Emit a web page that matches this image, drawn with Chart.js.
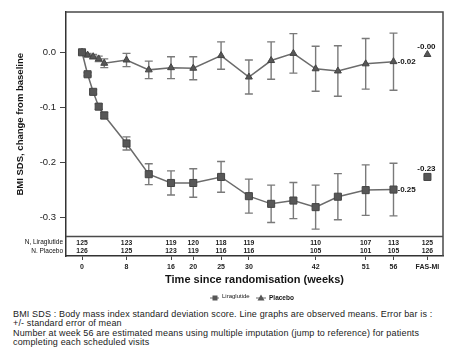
<!DOCTYPE html>
<html>
<head>
<meta charset="utf-8">
<script src="https://cdn.jsdelivr.net/npm/chart.js@4/dist/chart.umd.min.js"></script>
<style>
  html, body { margin: 0; padding: 0; background: #fff; width: 460px; height: 356px; overflow: hidden; }
  #wrap { position: absolute; left: 0; top: 0; width: 460px; height: 302px; }
  #notes { position: absolute; left: 13px; top: 310px; font-family: "Liberation Sans", Arial, sans-serif; font-size: 9px; line-height: 9.3px; letter-spacing: 0.15px; color: #1a1a1a; white-space: nowrap; }
</style>
</head>
<body>
<div id="wrap"><canvas id="c" width="460" height="302"></canvas></div>
<div id="notes">BMI SDS : Body mass index standard deviation score. Line graphs are observed means. Error bar is :<br>+/- standard error of mean<br>Number at week 56 are estimated means using multiple imputation (jump to reference) for patients<br>completing each scheduled visits</div>
<script>
// ---- data ----
const weeks = [0, 1, 2, 3, 4, 8, 12, 16, 20, 25, 30, 34, 38, 42, 46, 51, 56];
const liraglutide = [0, -0.040, -0.072, -0.099, -0.115, -0.166, -0.222, -0.238, -0.238, -0.227, -0.262, -0.276, -0.270, -0.282, -0.263, -0.251, -0.250];
const liraglutideSE = [0, 0.003, 0.004, 0.005, 0.006, 0.012, 0.019, 0.022, 0.026, 0.028, 0.031, 0.034, 0.033, 0.040, 0.042, 0.046, 0.048];
const placebo = [0, -0.005, -0.008, -0.012, -0.020, -0.014, -0.032, -0.028, -0.029, -0.006, -0.045, -0.015, -0.002, -0.030, -0.034, -0.021, -0.017];
const placeboSE = [0, 0.003, 0.004, 0.005, 0.008, 0.012, 0.016, 0.020, 0.021, 0.025, 0.031, 0.034, 0.036, 0.041, 0.046, 0.046, 0.052];

const fasX = 62.1;
const fasLiraglutide = -0.227;
const fasPlacebo = -0.004;

const xTickValues = [0, 8, 16, 20, 25, 30, 42, 51, 56, fasX];
const xTickLabels = ["0", "8", "16", "20", "25", "30", "42", "51", "56", "FAS-MI"];
const yTickValues = [-0.3, -0.2, -0.1, 0.0];

const nLiraglutide = [125, 123, 119, 120, 118, 119, 110, 107, 113, 125];
const nPlacebo = [126, 125, 123, 119, 116, 116, 105, 101, 105, 126];

const endLabels = [
  { x: 56, y: placebo[placebo.length - 1], text: "-0.02", pos: "right" },
  { x: 56, y: liraglutide[liraglutide.length - 1], text: "-0.25", pos: "right" },
  { x: fasX, y: fasPlacebo, text: "-0.00", pos: "above" },
  { x: fasX, y: fasLiraglutide, text: "-0.23", pos: "above" }
];

const tableSplit = -0.3346;
const lineColor = "#6b6b6b";
const markColor = "#575757";
const errColor = "#7a7a7a";
const textColor = "#151515";
const FONT = "'Liberation Sans', Arial, sans-serif";

const pts = (xs, ys) => xs.map((x, i) => ({ x: x, y: ys[i] }));

const errorBars = {
  id: "errorBars",
  beforeDatasetsDraw(chart) {
    const { ctx, scales: { x, y } } = chart;
    ctx.save();
    ctx.strokeStyle = errColor;
    ctx.lineWidth = 1.4;
    const draw = (vals, se) => {
      weeks.forEach((w, i) => {
        if (se[i] <= 0) return;
        const px = x.getPixelForValue(w);
        const y1 = y.getPixelForValue(vals[i] + se[i]);
        const y2 = y.getPixelForValue(vals[i] - se[i]);
        const cap = 4;
        ctx.beginPath();
        ctx.moveTo(px, y1); ctx.lineTo(px, y2);
        ctx.moveTo(px - cap, y1); ctx.lineTo(px + cap, y1);
        ctx.moveTo(px - cap, y2); ctx.lineTo(px + cap, y2);
        ctx.stroke();
      });
    };
    draw(liraglutide, liraglutideSE);
    draw(placebo, placeboSE);
    ctx.restore();
  }
};

const extras = {
  id: "extras",
  afterDraw(chart) {
    const { ctx, chartArea: a, scales: { x, y } } = chart;
    ctx.save();
    ctx.strokeStyle = "#4a4a4a";
    ctx.lineWidth = 1.5;
    ctx.beginPath();
    ctx.moveTo(a.left, a.top); ctx.lineTo(a.right, a.top); ctx.lineTo(a.right, a.bottom);
    const sy = Math.round(y.getPixelForValue(tableSplit)) + 0.5;
    ctx.moveTo(a.left, sy); ctx.lineTo(a.right, sy);
    ctx.stroke();

    ctx.fillStyle = textColor;
    ctx.font = "bold 9.5px " + FONT;
    ctx.textAlign = "center";
    ctx.textBaseline = "middle";
    ctx.save();
    ctx.translate(20, (a.top + sy) / 2);
    ctx.rotate(-Math.PI / 2);
    ctx.fillText("BMI SDS, change from baseline", 0, 0);
    ctx.restore();

    ctx.font = "bold 6.8px " + FONT;
    ctx.fillStyle = "#222";
    ctx.textAlign = "center";
    xTickValues.forEach((v, i) => {
      const px = x.getPixelForValue(v);
      ctx.fillText(String(nLiraglutide[i]), px, sy + 7);
      ctx.fillText(String(nPlacebo[i]), px, sy + 15);
    });
    ctx.textAlign = "right";
    ctx.font = "6.5px " + FONT;
    ctx.fillStyle = "#111";
    ctx.fillText("N, Liraglutide", a.left - 3, sy + 6);
    ctx.fillText("N. Placebo", a.left - 3, sy + 15);

    ctx.font = "bold 8px " + FONT;
    ctx.fillStyle = textColor;
    endLabels.forEach(l => {
      const px = x.getPixelForValue(l.x), py = y.getPixelForValue(l.y);
      if (l.pos === "right") { ctx.textAlign = "left"; ctx.fillText(l.text, px + 4, py); }
      else { ctx.textAlign = "center"; ctx.fillText(l.text, px - 1, py - 8); }
    });

    const ly = 298;
    ctx.strokeStyle = lineColor; ctx.lineWidth = 1;
    ctx.beginPath(); ctx.moveTo(210, ly); ctx.lineTo(219, ly); ctx.stroke();
    ctx.fillStyle = markColor; ctx.fillRect(212.5, ly - 2.5, 5, 5);
    ctx.fillStyle = textColor; ctx.textAlign = "left";
    ctx.font = "6px " + FONT;
    ctx.fillText("Liraglutide", 222, ly - 2);
    ctx.beginPath(); ctx.moveTo(256, ly); ctx.lineTo(266, ly); ctx.stroke();
    ctx.fillStyle = markColor;
    ctx.beginPath(); ctx.moveTo(261, ly - 3.5); ctx.lineTo(264.5, ly + 2.5); ctx.lineTo(257.5, ly + 2.5); ctx.closePath(); ctx.fill();
    ctx.fillStyle = textColor;
    ctx.font = "bold 6.5px " + FONT;
    ctx.fillText("Placebo", 269, ly);
    ctx.restore();
  }
};

new Chart(document.getElementById("c"), {
  type: "line",
  data: {
    datasets: [
      { label: "Liraglutide", data: pts(weeks, liraglutide), borderColor: lineColor, borderWidth: 1.5,
        pointStyle: "rect", pointRadius: 5, pointBackgroundColor: markColor, pointBorderColor: "#444", pointBorderWidth: 1, tension: 0 },
      { label: "Placebo", data: pts(weeks, placebo), borderColor: lineColor, borderWidth: 1.5,
        pointStyle: "triangle", pointRadius: 4, pointBackgroundColor: markColor, pointBorderColor: "#444", pointBorderWidth: 1, tension: 0 },
      { label: "FAS-MI Liraglutide", data: [{ x: fasX, y: fasLiraglutide }], showLine: false,
        pointStyle: "rect", pointRadius: 5, pointBackgroundColor: markColor, pointBorderColor: "#444", pointBorderWidth: 1 },
      { label: "FAS-MI Placebo", data: [{ x: fasX, y: fasPlacebo }], showLine: false,
        pointStyle: "triangle", pointRadius: 4, pointBackgroundColor: markColor, pointBorderColor: "#444", pointBorderWidth: 1 }
    ]
  },
  options: {
    responsive: false,
    animation: false,
    devicePixelRatio: 1,
    layout: { padding: { top: 12, right: 17, left: 0, bottom: 0 } },
    plugins: { legend: { display: false }, tooltip: { enabled: false } },
    scales: {
      x: {
        type: "linear", min: -2.88, max: 64.9,
        afterBuildTicks: s => { s.ticks = xTickValues.map(v => ({ value: v })); },
        afterFit: s => { s.height = 46; },
        ticks: {
          autoSkip: false, maxRotation: 0, padding: 3, color: "#222",
          font: { family: FONT, size: 7, weight: "bold" },
          callback: (v) => { const i = xTickValues.indexOf(v); return i >= 0 ? xTickLabels[i] : ""; }
        },
        grid: { drawOnChartArea: false, drawTicks: true, tickLength: 4, color: "#444" },
        border: { display: true, color: "#333", width: 1.5 },
        title: { display: true, text: "Time since randomisation (weeks)", color: textColor,
          font: { family: FONT, size: 11, weight: "bold" }, padding: { top: 0, bottom: 15 } }
      },
      y: {
        min: -0.371, max: 0.0734,
        afterBuildTicks: s => { s.ticks = yTickValues.map(v => ({ value: v })); },
        afterFit: s => { s.width = 66; },
        ticks: { padding: 4, color: "#222", font: { family: FONT, size: 9.5 },
          callback: v => v.toFixed(1) },
        grid: { drawOnChartArea: false, drawTicks: true, tickLength: 6, color: "#444" },
        border: { display: true, color: "#333", width: 1.5 }
      }
    }
  },
  plugins: [errorBars, extras]
});
</script>
</body>
</html>
